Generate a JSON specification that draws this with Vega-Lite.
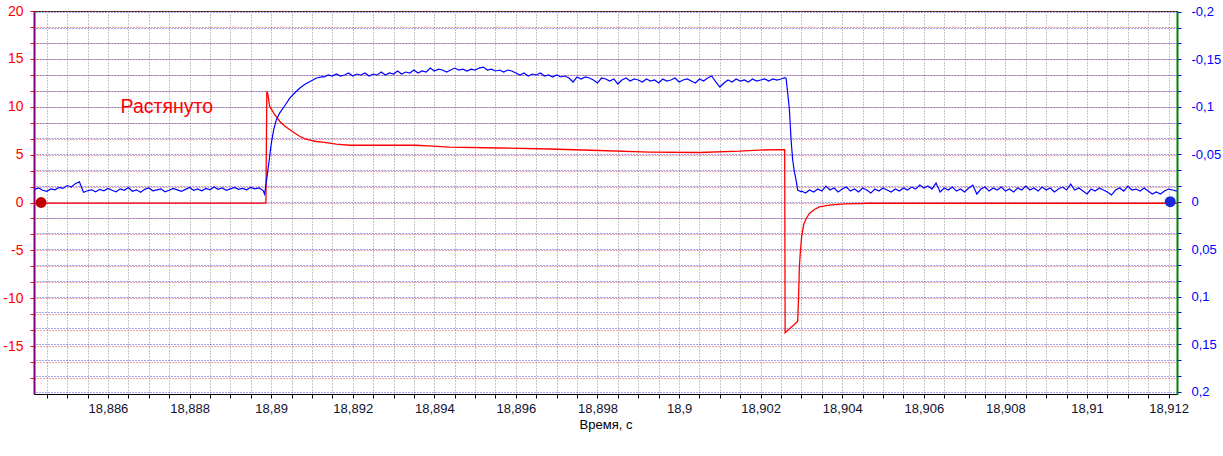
{
  "$schema": "https://vega.github.io/schema/vega-lite/v6.json",
  "width": 1143,
  "height": 383,
  "autosize": {"type": "none"},
  "padding": {"left": 34, "top": 11, "right": 46, "bottom": 62},
  "background": "white",
  "config": {"font": "Liberation Sans", "view": {"stroke": "#202020", "strokeWidth": 1}},
  "datasets": {
    "red": [
      {"t": 18.8842, "v": -0.06}, {"t": 18.889872, "v": -0.06}, {"t": 18.889894, "v": 11.6}, {"t": 18.889921, "v": 11.28},
      {"t": 18.889963, "v": 10.06}, {"t": 18.890085, "v": 9.19}, {"t": 18.890208, "v": 8.49}, {"t": 18.89033, "v": 7.99},
      {"t": 18.890453, "v": 7.62}, {"t": 18.890575, "v": 7.26}, {"t": 18.890698, "v": 6.92}, {"t": 18.89082, "v": 6.68},
      {"t": 18.890943, "v": 6.51}, {"t": 18.891114, "v": 6.37}, {"t": 18.891261, "v": 6.3}, {"t": 18.891597, "v": 6.09},
      {"t": 18.891923, "v": 5.98}, {"t": 18.893557, "v": 5.98}, {"t": 18.893957, "v": 5.88}, {"t": 18.894373, "v": 5.78},
      {"t": 18.895598, "v": 5.69}, {"t": 18.896824, "v": 5.59}, {"t": 18.898049, "v": 5.43}, {"t": 18.899274, "v": 5.27},
      {"t": 18.900499, "v": 5.22}, {"t": 18.901479, "v": 5.36}, {"t": 18.901969, "v": 5.48}, {"t": 18.902589, "v": 5.53},
      {"t": 18.9026, "v": -13.6}, {"t": 18.902705, "v": -13.19}, {"t": 18.902827, "v": -12.74}, {"t": 18.902908, "v": -12.4},
      {"t": 18.902932, "v": -9.43}, {"t": 18.90295, "v": -6.65}, {"t": 18.902974, "v": -5.09}, {"t": 18.903006, "v": -3.52},
      {"t": 18.903055, "v": -2.3}, {"t": 18.903114, "v": -1.7}, {"t": 18.903195, "v": -1.15}, {"t": 18.903317, "v": -0.73},
      {"t": 18.90344, "v": -0.45}, {"t": 18.903685, "v": -0.28}, {"t": 18.904052, "v": -0.14}, {"t": 18.904665, "v": -0.08},
      {"t": 18.9122, "v": -0.08}
    ],
    "blue": [
      {"t": 18.8842, "v": -0.0130}, {"t": 18.8843, "v": -0.0145}, {"t": 18.8844, "v": -0.0120}, {"t": 18.8845, "v": -0.0110},
      {"t": 18.8846, "v": -0.0135}, {"t": 18.8847, "v": -0.0125}, {"t": 18.8848, "v": -0.0150}, {"t": 18.8849, "v": -0.0140},
      {"t": 18.8850, "v": -0.0170}, {"t": 18.8851, "v": -0.0155}, {"t": 18.8852, "v": -0.0190}, {"t": 18.8853, "v": -0.0210},
      {"t": 18.8854, "v": -0.0100}, {"t": 18.8855, "v": -0.0115}, {"t": 18.8856, "v": -0.0125}, {"t": 18.8857, "v": -0.0105},
      {"t": 18.8858, "v": -0.0130}, {"t": 18.8859, "v": -0.0115}, {"t": 18.8860, "v": -0.0140}, {"t": 18.8861, "v": -0.0120},
      {"t": 18.8862, "v": -0.0105}, {"t": 18.8863, "v": -0.0135}, {"t": 18.8864, "v": -0.0120}, {"t": 18.8865, "v": -0.0150},
      {"t": 18.8866, "v": -0.0110}, {"t": 18.8867, "v": -0.0125}, {"t": 18.8868, "v": -0.0100}, {"t": 18.8869, "v": -0.0130},
      {"t": 18.8870, "v": -0.0145}, {"t": 18.8871, "v": -0.0115}, {"t": 18.8872, "v": -0.0125}, {"t": 18.8873, "v": -0.0135},
      {"t": 18.8874, "v": -0.0105}, {"t": 18.8875, "v": -0.0120}, {"t": 18.8876, "v": -0.0140}, {"t": 18.8877, "v": -0.0125},
      {"t": 18.8878, "v": -0.0110}, {"t": 18.8879, "v": -0.0130}, {"t": 18.8880, "v": -0.0150}, {"t": 18.8881, "v": -0.0120},
      {"t": 18.8882, "v": -0.0135}, {"t": 18.8883, "v": -0.0115}, {"t": 18.8884, "v": -0.0140}, {"t": 18.8885, "v": -0.0125},
      {"t": 18.8886, "v": -0.0155}, {"t": 18.8887, "v": -0.0130}, {"t": 18.8888, "v": -0.0145}, {"t": 18.8889, "v": -0.0120},
      {"t": 18.8890, "v": -0.0135}, {"t": 18.8891, "v": -0.0150}, {"t": 18.8892, "v": -0.0130}, {"t": 18.8893, "v": -0.0140},
      {"t": 18.8894, "v": -0.0125}, {"t": 18.8895, "v": -0.0150}, {"t": 18.8896, "v": -0.0135}, {"t": 18.8897, "v": -0.0145},
      {"t": 18.8898, "v": -0.0120}, {"t": 18.88984, "v": -0.0081},
      {"t": 18.889872, "v": -0.0176}, {"t": 18.889921, "v": -0.0334}, {"t": 18.889963, "v": -0.0471}, {"t": 18.890004, "v": -0.0615},
      {"t": 18.890061, "v": -0.0755}, {"t": 18.890127, "v": -0.0861}, {"t": 18.890208, "v": -0.0934}, {"t": 18.89033, "v": -0.1008},
      {"t": 18.890453, "v": -0.1089}, {"t": 18.890575, "v": -0.1145}, {"t": 18.890698, "v": -0.1195}, {"t": 18.89082, "v": -0.1234},
      {"t": 18.890943, "v": -0.1264}, {"t": 18.891114, "v": -0.1303}, {"t": 18.891261, "v": -0.1317},
      {"t": 18.8913, "v": -0.1314}, {"t": 18.8914, "v": -0.1335}, {"t": 18.8915, "v": -0.1324}, {"t": 18.8916, "v": -0.1345},
      {"t": 18.8917, "v": -0.1324}, {"t": 18.8918, "v": -0.1335}, {"t": 18.8919, "v": -0.1356}, {"t": 18.8920, "v": -0.1324},
      {"t": 18.8921, "v": -0.1345}, {"t": 18.8922, "v": -0.1335}, {"t": 18.8923, "v": -0.1356}, {"t": 18.8924, "v": -0.1324},
      {"t": 18.8925, "v": -0.1345}, {"t": 18.8926, "v": -0.1335}, {"t": 18.8927, "v": -0.1366}, {"t": 18.8928, "v": -0.1335},
      {"t": 18.8929, "v": -0.1356}, {"t": 18.8930, "v": -0.1345}, {"t": 18.8931, "v": -0.1377}, {"t": 18.8932, "v": -0.1345},
      {"t": 18.8933, "v": -0.1366}, {"t": 18.8934, "v": -0.1356}, {"t": 18.8935, "v": -0.1387}, {"t": 18.8936, "v": -0.1356},
      {"t": 18.8937, "v": -0.1377}, {"t": 18.8938, "v": -0.1366}, {"t": 18.8939, "v": -0.1408}, {"t": 18.8940, "v": -0.1377},
      {"t": 18.8941, "v": -0.1397}, {"t": 18.8942, "v": -0.1387}, {"t": 18.8943, "v": -0.1366}, {"t": 18.8944, "v": -0.1387},
      {"t": 18.8945, "v": -0.1408}, {"t": 18.8946, "v": -0.1387}, {"t": 18.8947, "v": -0.1397}, {"t": 18.8948, "v": -0.1377},
      {"t": 18.8949, "v": -0.1397}, {"t": 18.8950, "v": -0.1387}, {"t": 18.8951, "v": -0.1408}, {"t": 18.8952, "v": -0.1418},
      {"t": 18.8953, "v": -0.1387}, {"t": 18.8954, "v": -0.1397}, {"t": 18.8955, "v": -0.1377}, {"t": 18.8956, "v": -0.1387},
      {"t": 18.8957, "v": -0.1366}, {"t": 18.8958, "v": -0.1387}, {"t": 18.8959, "v": -0.1377}, {"t": 18.8960, "v": -0.1356},
      {"t": 18.8961, "v": -0.1335}, {"t": 18.8962, "v": -0.1356}, {"t": 18.8963, "v": -0.1324}, {"t": 18.8964, "v": -0.1345},
      {"t": 18.8965, "v": -0.1335}, {"t": 18.8966, "v": -0.1356}, {"t": 18.8967, "v": -0.1324}, {"t": 18.8968, "v": -0.1335},
      {"t": 18.8969, "v": -0.1314}, {"t": 18.8970, "v": -0.1335}, {"t": 18.8971, "v": -0.1314}, {"t": 18.8972, "v": -0.1324},
      {"t": 18.8973, "v": -0.1303}, {"t": 18.8974, "v": -0.1261}, {"t": 18.8975, "v": -0.1314}, {"t": 18.8976, "v": -0.1293},
      {"t": 18.8977, "v": -0.1314}, {"t": 18.8978, "v": -0.1303}, {"t": 18.8979, "v": -0.1282}, {"t": 18.8980, "v": -0.1250},
      {"t": 18.8981, "v": -0.1303}, {"t": 18.8982, "v": -0.1293}, {"t": 18.8983, "v": -0.1271}, {"t": 18.8984, "v": -0.1293},
      {"t": 18.8985, "v": -0.1240}, {"t": 18.8986, "v": -0.1282}, {"t": 18.8987, "v": -0.1303}, {"t": 18.8988, "v": -0.1271},
      {"t": 18.8989, "v": -0.1293}, {"t": 18.8990, "v": -0.1282}, {"t": 18.8991, "v": -0.1261}, {"t": 18.8992, "v": -0.1293},
      {"t": 18.8993, "v": -0.1271}, {"t": 18.8994, "v": -0.1282}, {"t": 18.8995, "v": -0.1250}, {"t": 18.8996, "v": -0.1293},
      {"t": 18.8997, "v": -0.1271}, {"t": 18.8998, "v": -0.1282}, {"t": 18.8999, "v": -0.1303}, {"t": 18.9000, "v": -0.1261},
      {"t": 18.9001, "v": -0.1282}, {"t": 18.9002, "v": -0.1293}, {"t": 18.9003, "v": -0.1271}, {"t": 18.9004, "v": -0.1250},
      {"t": 18.9005, "v": -0.1293}, {"t": 18.9006, "v": -0.1271}, {"t": 18.9007, "v": -0.1303}, {"t": 18.9008, "v": -0.1324},
      {"t": 18.9009, "v": -0.1261}, {"t": 18.9010, "v": -0.1208}, {"t": 18.9011, "v": -0.1250}, {"t": 18.9012, "v": -0.1282},
      {"t": 18.9013, "v": -0.1261}, {"t": 18.9014, "v": -0.1293}, {"t": 18.9015, "v": -0.1271}, {"t": 18.9016, "v": -0.1282},
      {"t": 18.9017, "v": -0.1261}, {"t": 18.9018, "v": -0.1293}, {"t": 18.9019, "v": -0.1271}, {"t": 18.9020, "v": -0.1282},
      {"t": 18.9021, "v": -0.1293}, {"t": 18.9022, "v": -0.1271}, {"t": 18.9023, "v": -0.1293}, {"t": 18.9024, "v": -0.1282},
      {"t": 18.9025, "v": -0.1293}, {"t": 18.902595, "v": -0.1306},
      {"t": 18.902624, "v": -0.1300}, {"t": 18.902668, "v": -0.1124}, {"t": 18.902705, "v": -0.0966}, {"t": 18.902746, "v": -0.0650},
      {"t": 18.902785, "v": -0.0439}, {"t": 18.902827, "v": -0.0313}, {"t": 18.902869, "v": -0.0228}, {"t": 18.902908, "v": -0.0123},
      {"t": 18.902991, "v": -0.0105},
      {"t": 18.9030, "v": -0.0112}, {"t": 18.9031, "v": -0.0091}, {"t": 18.9032, "v": -0.0123}, {"t": 18.9033, "v": -0.0102},
      {"t": 18.9034, "v": -0.0133}, {"t": 18.9035, "v": -0.0112}, {"t": 18.9036, "v": -0.0165}, {"t": 18.9037, "v": -0.0123},
      {"t": 18.9038, "v": -0.0144}, {"t": 18.9039, "v": -0.0102}, {"t": 18.9040, "v": -0.0133}, {"t": 18.9041, "v": -0.0154},
      {"t": 18.9042, "v": -0.0112}, {"t": 18.9043, "v": -0.0133}, {"t": 18.9044, "v": -0.0102}, {"t": 18.9045, "v": -0.0144},
      {"t": 18.9046, "v": -0.0123}, {"t": 18.9047, "v": -0.0091}, {"t": 18.9048, "v": -0.0133}, {"t": 18.9049, "v": -0.0112},
      {"t": 18.9050, "v": -0.0144}, {"t": 18.9051, "v": -0.0123}, {"t": 18.9052, "v": -0.0102}, {"t": 18.9053, "v": -0.0133},
      {"t": 18.9054, "v": -0.0112}, {"t": 18.9055, "v": -0.0144}, {"t": 18.9056, "v": -0.0123}, {"t": 18.9057, "v": -0.0154},
      {"t": 18.9058, "v": -0.0133}, {"t": 18.9059, "v": -0.0175}, {"t": 18.9060, "v": -0.0144}, {"t": 18.9061, "v": -0.0165},
      {"t": 18.9062, "v": -0.0133}, {"t": 18.9063, "v": -0.0196}, {"t": 18.9064, "v": -0.0102}, {"t": 18.9065, "v": -0.0144},
      {"t": 18.9066, "v": -0.0123}, {"t": 18.9067, "v": -0.0154}, {"t": 18.9068, "v": -0.0112}, {"t": 18.9069, "v": -0.0133},
      {"t": 18.9070, "v": -0.0102}, {"t": 18.9071, "v": -0.0144}, {"t": 18.9072, "v": -0.0175}, {"t": 18.9073, "v": -0.0081},
      {"t": 18.9074, "v": -0.0133}, {"t": 18.9075, "v": -0.0154}, {"t": 18.9076, "v": -0.0112}, {"t": 18.9077, "v": -0.0144},
      {"t": 18.9078, "v": -0.0123}, {"t": 18.9079, "v": -0.0154}, {"t": 18.9080, "v": -0.0112}, {"t": 18.9081, "v": -0.0133},
      {"t": 18.9082, "v": -0.0102}, {"t": 18.9083, "v": -0.0144}, {"t": 18.9084, "v": -0.0123}, {"t": 18.9085, "v": -0.0165},
      {"t": 18.9086, "v": -0.0123}, {"t": 18.9087, "v": -0.0144}, {"t": 18.9088, "v": -0.0112}, {"t": 18.9089, "v": -0.0154},
      {"t": 18.9090, "v": -0.0123}, {"t": 18.9091, "v": -0.0144}, {"t": 18.9092, "v": -0.0102}, {"t": 18.9093, "v": -0.0133},
      {"t": 18.9094, "v": -0.0154}, {"t": 18.9095, "v": -0.0123}, {"t": 18.9096, "v": -0.0186}, {"t": 18.9097, "v": -0.0123},
      {"t": 18.9098, "v": -0.0144}, {"t": 18.9099, "v": -0.0112}, {"t": 18.9100, "v": -0.0081}, {"t": 18.9101, "v": -0.0133},
      {"t": 18.9102, "v": -0.0112}, {"t": 18.9103, "v": -0.0144}, {"t": 18.9104, "v": -0.0123}, {"t": 18.9105, "v": -0.0102},
      {"t": 18.9106, "v": -0.0070}, {"t": 18.9107, "v": -0.0123}, {"t": 18.9108, "v": -0.0144}, {"t": 18.9109, "v": -0.0112},
      {"t": 18.9110, "v": -0.0165}, {"t": 18.9111, "v": -0.0123}, {"t": 18.9112, "v": -0.0133}, {"t": 18.9113, "v": -0.0112},
      {"t": 18.9114, "v": -0.0144}, {"t": 18.9115, "v": -0.0112}, {"t": 18.9116, "v": -0.0081}, {"t": 18.9117, "v": -0.0102},
      {"t": 18.9118, "v": -0.0081}, {"t": 18.9119, "v": -0.0112}, {"t": 18.9120, "v": -0.0133}, {"t": 18.9121, "v": -0.0123},
      {"t": 18.9122, "v": -0.0112}
    ],
    "redMark": [{"t": 18.88436, "v": 0}],
    "blueMark": [{"t": 18.91204, "v": 0}],
    "note": [{"t": 18.88631, "v": 10, "label": "Растянуто"}]
  },
  "encoding": {
    "x": {
      "field": "t", "type": "quantitative",
      "scale": {"domain": [18.884187, 18.912206], "zero": false, "nice": false},
      "axis": {
        "values": [18.8845, 18.885, 18.8855, 18.886, 18.8865, 18.887, 18.8875, 18.888, 18.8885, 18.889, 18.8895, 18.89, 18.8905, 18.891, 18.8915, 18.892, 18.8925, 18.893, 18.8935, 18.894, 18.8945, 18.895, 18.8955, 18.896, 18.8965, 18.897, 18.8975, 18.898, 18.8985, 18.899, 18.8995, 18.9, 18.9005, 18.901, 18.9015, 18.902, 18.9025, 18.903, 18.9035, 18.904, 18.9045, 18.905, 18.9055, 18.906, 18.9065, 18.907, 18.9075, 18.908, 18.9085, 18.909, 18.9095, 18.91, 18.9105, 18.911, 18.9115, 18.912],
        "labelExpr": "abs(datum.value*500 - round(datum.value*500)) < 0.01 ? replace(format(datum.value, '.3~f'), '.', ',') : ''",
        "labelColor": "#101030", "labelFontSize": 13, "labelPadding": 4,
        "tickColor": "#000000", "tickSize": 4,
        "domainColor": "#000000", "domainWidth": 1,
        "grid": true, "gridColor": "#8c8c8c", "gridDash": [1, 2], "gridOpacity": 1,
        "title": "Время, с", "titleFontSize": 13, "titleFontWeight": "normal", "titleColor": "#000000", "titlePadding": 3,
        "labelOverlap": false, "labelFlush": false
      }
    }
  },
  "layer": [
    {
      "encoding": {
        "y": {
          "field": "v", "type": "quantitative",
          "scale": {"domain": [-20, 20], "zero": false, "nice": false},
          "axis": {
            "orient": "left",
            "values": [20, 18.3333, 16.6667, 15, 13.3333, 11.6667, 10, 8.3333, 6.6667, 5, 3.3333, 1.6667, 0, -1.6667, -3.3333, -5, -6.6667, -8.3333, -10, -11.6667, -13.3333, -15, -16.6667, -18.3333],
            "labelExpr": "abs(datum.value/5 - round(datum.value/5)) < 0.01 ? '' + round(datum.value) : ''",
            "labelColor": "#ff0000", "labelFontSize": 14, "labelPadding": 7,
            "tickColor": "#ff0000", "tickSize": 4,
            "domainColor": "#800080", "domainWidth": 2,
            "grid": true, "gridColor": "#d84848", "gridDash": [1, 2], "gridOpacity": 1,
            "title": null, "labelOverlap": false, "labelFlush": false
          }
        }
      },
      "layer": [
        {
          "data": {"name": "red"},
          "mark": {"type": "line", "color": "#ff0000", "strokeWidth": 1.3}
        },
        {
          "data": {"name": "redMark"},
          "mark": {"type": "point", "filled": true, "size": 120, "color": "#c00000", "opacity": 1}
        },
        {
          "data": {"name": "note"},
          "mark": {"type": "text", "align": "left", "baseline": "middle", "fontSize": 19.5, "color": "#ff0000"},
          "encoding": {"text": {"field": "label"}}
        }
      ]
    },
    {
      "encoding": {
        "y": {
          "field": "v", "type": "quantitative",
          "scale": {"domain": [-0.2009, 0.2026], "reverse": true, "zero": false, "nice": false},
          "axis": {
            "orient": "right",
            "values": [-0.2, -0.18333, -0.16667, -0.15, -0.13333, -0.11667, -0.1, -0.08333, -0.06667, -0.05, -0.03333, -0.01667, 0, 0.01667, 0.03333, 0.05, 0.06667, 0.08333, 0.1, 0.11667, 0.13333, 0.15, 0.16667, 0.18333, 0.2],
            "labelExpr": "abs(datum.value*20 - round(datum.value*20)) < 0.01 ? replace('' + round(datum.value*20)/20, '.', ',') : ''",
            "labelColor": "#0000ff", "labelFontSize": 13, "labelPadding": 10,
            "tickColor": "#0000ff", "tickSize": 4,
            "domainColor": "#008000", "domainWidth": 2,
            "grid": true, "gridColor": "#4848d8", "gridDash": [1, 2], "gridOpacity": 1,
            "title": null, "labelOverlap": false, "labelFlush": false
          }
        }
      },
      "layer": [
        {
          "data": {"name": "blue"},
          "mark": {"type": "line", "color": "#0000ff", "strokeWidth": 1.2}
        },
        {
          "data": {"name": "blueMark"},
          "mark": {"type": "point", "filled": true, "size": 120, "color": "#1a2ad8", "opacity": 1}
        }
      ]
    }
  ],
  "resolve": {"scale": {"y": "independent"}, "axis": {"y": "independent"}}
}
